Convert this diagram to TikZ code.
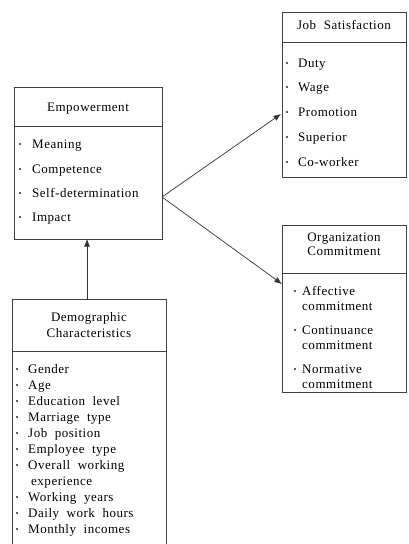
\documentclass[tikz,border=0pt]{standalone}
\usepackage{fontspec}
\setmainfont[LetterSpace=4]{Liberation Serif}
\usetikzlibrary{arrows.meta}
\begin{document}
\begin{tikzpicture}[x=1pt,y=-1pt,
  frame/.style={draw=black!75,line width=0.8pt},
  divider/.style={draw=black!75,line width=0.8pt},
  title/.style={font=\fontsize{13}{15}\selectfont,anchor=base,inner sep=0pt,text=black},
  item/.style={font=\fontsize{13}{15}\selectfont,anchor=base west,inner sep=0pt,text=black},
  dot/.style={fill=black!85,circle,inner sep=0pt,minimum size=2.4pt},
  conn/.style={draw=black!80,line width=0.7pt,-{Latex[length=7.5pt,width=6pt]}}
]
\useasboundingbox (0,0) rectangle (409,544);
\clip (0,0) rectangle (409,544);
% Empowerment
\draw[frame] (14,87) rectangle (162,239);
\draw[divider] (14,126) -- (162,126);
\node[title] (empt) at (88,111.5) {Empowerment};
\foreach \t/\y [count=\i] in {Meaning/144,Competence/169,Self-determination/193,Impact/217}{
  \node[dot] at (20,\y) {};
  \node[item] (emp\i) at (32,\y+4.5) {\t};
}
% Job satisfaction
\draw[frame] (282,12) rectangle (406,177);
\draw[divider] (282,42) -- (406,42);
\node[title] (jst) at (344,29.5) {Job\ \ Satisfaction};
\foreach \t/\y [count=\i] in {Duty/63,Wage/87,Promotion/112,Superior/137,Co-worker/162}{
  \node[dot] at (287,\y) {};
  \node[item] (js\i) at (298,\y+4.5) {\t};
}
% Organization commitment
\draw[frame] (282,225) rectangle (406,392);
\draw[divider] (282,273) -- (406,273);
\node[title] (oct1) at (344,241.5) {Organization};
\node[title] (oct2) at (344,255.5) {Commitment};
\foreach \t/\y [count=\i] in {Affective/291,Continuance/330,Normative/369}{
  \node[dot] at (295,\y) {};
  \node[item] (oc\i) at (302,\y+4.5) {\t};
  \node[item] (occ\i) at (302,\y+19.5) {commitment};
}
% Demographic
\draw[frame] (12,299) rectangle (166,580);
\draw[divider] (12,351) -- (166,351);
\node[title] (demt1) at (89,321.5) {Demographic};
\node[title] (demt2) at (89,337.5) {Characteristics};
\foreach \t/\y [count=\i] in {Gender/369,Age/385,Education\ \ level/401,Marriage\ \ type/417,Job\ \ position/433,Employee\ \ type/449,Overall\ \ working/465,Working\ \ years/497,Daily\ \ work\ \ hours/513,Monthly\ \ incomes/529}{
  \node[dot] at (17,\y) {};
  \node[item] (dem\i) at (28,\y+4.5) {\t};
}
\node[item] (demx) at (31,485.5) {experience};
% connectors
\coordinate (empout) at (162,197);
\coordinate (jsin) at (281,114);
\coordinate (ocin) at (282,284);
\coordinate (demtop) at (87,299);
\coordinate (empbot) at (87,239);
\draw[conn] (empout) -- (jsin);
\draw[conn] (empout) -- (ocin);
\draw[conn] (demtop) -- (empbot);
\end{tikzpicture}
\end{document}
